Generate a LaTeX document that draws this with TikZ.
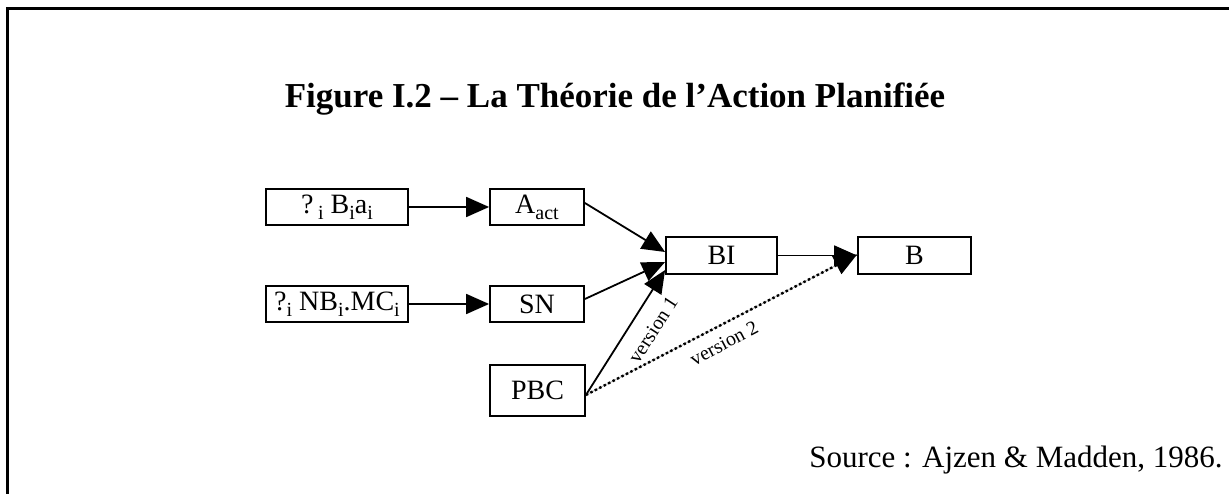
\documentclass[tikz,border=0pt]{standalone}
\usepackage{fontspec}
\setmainfont{Liberation Serif}
\usetikzlibrary{arrows.meta,calc}
\newcommand{\sbi}[1]{\raisebox{-0.45ex}{\fontsize{20}{20}\selectfont #1}}
\begin{document}
\begin{tikzpicture}[x=1pt,y=-1pt,
  box/.style={draw,line width=1.8pt,inner sep=0pt,minimum height=36pt,font=\fontsize{28}{28}\selectfont},
  arr/.style={line width=1.8pt,-{Triangle[length=23pt,width=20pt]}},
  dotarr/.style={line width=2.4pt,dash pattern=on 2.5pt off 2.5pt,-{Triangle[length=23pt,width=20pt]}},
  lbl/.style={font=\fontsize{20}{20}\selectfont,inner sep=0pt}]
\useasboundingbox (0,0) rectangle (1229,494);
\draw[line width=3pt] (7.5,494) -- (7.5,8.5) -- (1229,8.5);
\node[font=\bfseries\fontsize{35}{35}\selectfont,anchor=base] (title) at (615,108) {Figure I.2 – La Théorie de l’Action Planifiée};
\node[box,minimum width=142pt] (sba) at (337,207) {?\,\sbi{i} B\sbi{i}a\sbi{i}};
\node[box,minimum width=94pt] (aact) at (537,207) {A\sbi{act}};
\node[box,minimum width=142pt] (snb) at (337,304) {?\sbi{i} NB\sbi{i}.MC\sbi{i}};
\node[box,minimum width=94pt] (sn) at (537,304) {SN};
\node[box,minimum width=95pt,minimum height=51pt] (pbc) at (537.5,390.5) {PBC};
\node[box,minimum width=111pt,minimum height=37pt] (bi) at (721.5,255.5) {BI};
\node[box,minimum width=113pt,minimum height=37pt] (b) at (914.5,255.5) {B};
\coordinate (ps) at ([yshift=-4.5pt]pbc.east);
\draw[line width=0.8pt,gray!60] (ps) -- ([yshift=1pt]b.west);
\draw[dotarr] (ps) -- ([yshift=1pt]b.west);
\draw[arr] (sba) -- (aact);
\draw[arr] (snb) -- (sn);
\draw[arr] ([yshift=4pt]aact.east) -- ([yshift=3.5pt]bi.west);
\draw[arr] ([yshift=5pt]sn.east) -- ([yshift=-6.5pt]bi.west);
\draw[arr] (ps) -- ([yshift=-14.5pt]bi.west);
\draw[arr] (bi) -- (b);
\node[lbl,rotate=57] (v1) at (653,330) {version 1};
\node[lbl,rotate=28] (v2) at (724,343) {version 2};
\node[font=\fontsize{31}{31}\selectfont,anchor=base] (src) at (1016,467) {Source : Ajzen \& Madden, 1986.};
\end{tikzpicture}
\end{document}
